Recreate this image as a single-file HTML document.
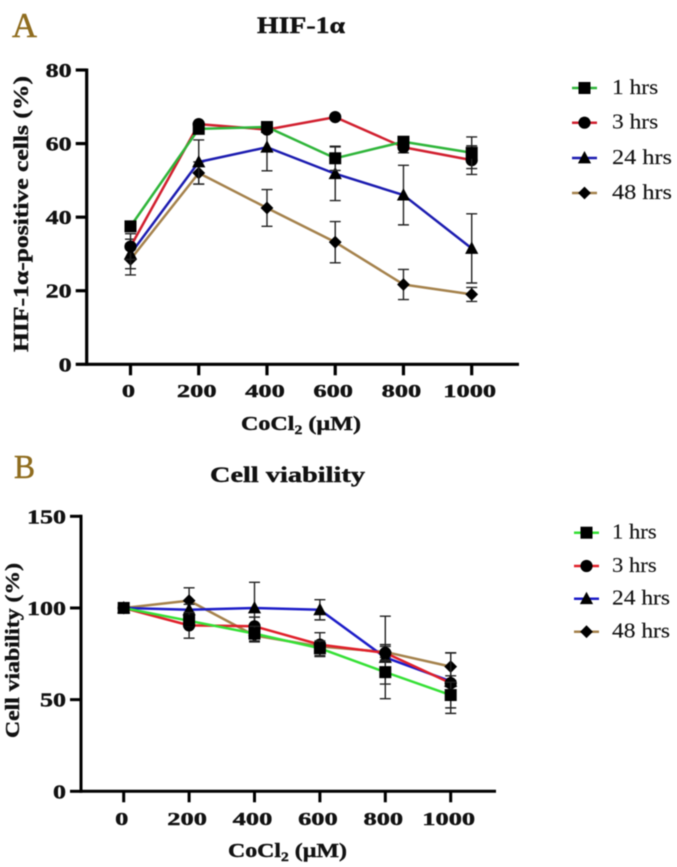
<!DOCTYPE html>
<html lang="en">
<head>
<meta charset="utf-8">
<title>HIF-1α and cell viability</title>
<style>
html,body{margin:0;padding:0;background:#fff;}
#figure{display:block;width:677px;height:867px;filter:blur(0.55px);}
text{font-family:"Liberation Serif","DejaVu Serif",serif;fill:#111;}
.bold,text[font-weight="700"]{font-weight:700;stroke:#111;stroke-width:0.4px;}
.letter{stroke:#8f6c1e;stroke-width:0.5px;}
.legend-text{stroke:#222;stroke-width:0.15px;}
</style>
</head>
<body>
<svg id="figure" xmlns="http://www.w3.org/2000/svg" width="677" height="867" viewBox="0 0 677 867">
  <text class="letter" x="12" y="37" font-size="35" style="fill:#8f6c1e" textLength="25" lengthAdjust="spacingAndGlyphs">A</text>
  <text class="letter" x="14" y="478" font-size="34" style="fill:#8f6c1e" textLength="21" lengthAdjust="spacingAndGlyphs">B</text>
  <text class="bold" x="257" y="33" font-size="23" textLength="88" lengthAdjust="spacingAndGlyphs">HIF-1α</text>
  <text class="bold" x="210" y="482" font-size="22" textLength="155" lengthAdjust="spacingAndGlyphs">Cell viability</text>
  <text class="bold" transform="translate(28,352) rotate(-90)" font-size="21" textLength="276" lengthAdjust="spacingAndGlyphs">HIF-1α-positive cells (%)</text>
  <text class="bold" transform="translate(19,738) rotate(-90)" font-size="20" textLength="175" lengthAdjust="spacingAndGlyphs">Cell viability (%)</text>
  <text class="bold" x="241" y="430" font-size="20" textLength="120" lengthAdjust="spacingAndGlyphs">CoCl<tspan font-size="13" dy="4">2</tspan><tspan dy="-4"> (µM)</tspan></text>
  <text class="bold" x="228" y="857" font-size="20" textLength="119" lengthAdjust="spacingAndGlyphs">CoCl<tspan font-size="13" dy="4">2</tspan><tspan dy="-4"> (µM)</tspan></text>
  <g id="chartA"></g>
  <g id="chartB"></g>
</svg>
<script>
const doses = [0, 200, 400, 600, 800, 1000];
const seriesNames = ['48 hrs', '24 hrs', '3 hrs', '1 hrs'];
const legendNames = ['1 hrs', '3 hrs', '24 hrs', '48 hrs'];

const hifTicks = [0, 20, 40, 60, 80];
const hif1hrs = [37.5, 64, 64.5, 56, 60.5, 57.5];
const hif3hrs = [32, 65.3, 63.8, 67.2, 59, 55.5];
const hif24hrs = [30, 55, 59, 51.8, 46, 31.5];
const hif48hrs = [28.5, 52, 42.5, 33.2, 21.7, 19];
const hifErr1hrs = [0.5, 0.6, 0.7, 3.3, 1, 4.3];
const hifErr3hrs = [3.5, 0.5, 0.5, 0.5, 1.5, 3.9];
const hifErr24hrs = [4, 6, 6.4, 7.3, 8.1, 9.4];
const hifErr48hrs = [4.2, 3, 5, 5.6, 4.1, 1.9];

const viaTicks = [0, 50, 100, 150];
const via1hrs = [100, 93, 86, 78, 65, 52.5];
const via3hrs = [100, 90.5, 90, 80, 75.5, 59];
const via24hrs = [100, 99, 100, 99, 73, 60];
const via48hrs = [100, 104, 85, 79, 76, 68];
const viaErr1hrs = [0, 3, 4, 4, 6.5, 7];
const viaErr3hrs = [0, 7, 5, 6.5, 4.5, 16.5];
const viaErr24hrs = [0, 3, 14, 5.5, 22.5, 3];
const viaErr48hrs = [0, 7, 3.5, 2, 3, 7.5];

const NS = 'http://www.w3.org/2000/svg';
const seriesColorsA = {'1 hrs':'#2fb53a','3 hrs':'#d1202f','24 hrs':'#1c1cb0','48 hrs':'#a5824c'};
const seriesColorsB = {'1 hrs':'#35e035','3 hrs':'#e0202a','24 hrs':'#1c1cc8','48 hrs':'#a5824c'};

function make(parent, tag, attrs, text) {
  const el = document.createElementNS(NS, tag);
  for (const k in attrs) el.setAttribute(k, attrs[k]);
  if (text !== undefined) el.textContent = text;
  parent.appendChild(el);
  return el;
}
function slug(s) { return s.replace(/\s+/g, '-'); }

function marker(parent, name, cx, cy) {
  let el;
  if (name === '1 hrs') {
    el = make(parent, 'rect', {x: cx - 6, y: cy - 6, width: 12, height: 12, fill: '#000'});
  } else if (name === '3 hrs') {
    el = make(parent, 'circle', {cx: cx, cy: cy, r: 6.1, fill: '#000'});
  } else if (name === '24 hrs') {
    el = make(parent, 'polygon', {points: (cx - 6.6) + ',' + (cy + 5.4) + ' ' + (cx + 6.6) + ',' + (cy + 5.4) + ' ' + cx + ',' + (cy - 7), fill: '#000'});
  } else {
    el = make(parent, 'polygon', {points: (cx - 6.4) + ',' + cy + ' ' + cx + ',' + (cy - 6.4) + ' ' + (cx + 6.4) + ',' + cy + ' ' + cx + ',' + (cy + 6.4), fill: '#000'});
  }
  return el;
}

function drawChart(cfg) {
  const g = document.getElementById(cfg.id);
  const xScale = d => cfg.x0 + (d / 1000) * (cfg.x1 - cfg.x0);
  const yScale = v => cfg.yBase + (v / cfg.yMax) * (cfg.yTop - cfg.yBase);

  const yAxis = make(g, 'line', {x1: cfg.axisX, x2: cfg.axisX, y1: cfg.yTop - 1.5, y2: cfg.yBase + 1.5, stroke: '#000', 'stroke-width': cfg.axisW});
  
  
  const xAxis = make(g, 'line', {x1: cfg.axisX, x2: cfg.axisEnd, y1: cfg.yBase, y2: cfg.yBase, stroke: '#000', 'stroke-width': cfg.axisW});
  
  

  cfg.yTicks.forEach(function (t) {
    const y = yScale(t);
    const tick = make(g, 'line', {x1: cfg.axisX - 11, x2: cfg.axisX, y1: y, y2: y, stroke: '#000', 'stroke-width': cfg.axisW});
    
    
    const s = String(t);
    const label = make(g, 'text', {x: cfg.axisX - 15, y: y + 7, 'text-anchor': 'end', 'font-size': 20, 'font-weight': 700, textLength: s.length * 13, lengthAdjust: 'spacingAndGlyphs'}, s);
    
    
  });
  doses.forEach(function (d) {
    const x = xScale(d);
    const tick = make(g, 'line', {x1: x, x2: x, y1: cfg.yBase, y2: cfg.yBase + 11, stroke: '#000', 'stroke-width': cfg.axisW});
    
    
    const s = String(d);
    const label = make(g, 'text', {x: x - 2, y: cfg.xLabelY, 'text-anchor': 'middle', 'font-size': 18, 'font-weight': 700, textLength: s.length * 13.2, lengthAdjust: 'spacingAndGlyphs'}, s);
    
    
  });

  seriesNames.forEach(function (name) {
    const vals = cfg.values[name];
    const errs = cfg.errors[name];
    const sg = make(g, 'g', {});
    
    
    vals.forEach(function (v, i) {
      if (!errs[i]) return;
      const x = xScale(doses[i]);
      const hi = yScale(v + errs[i]);
      const lo = yScale(v - errs[i]);
      const bar = make(sg, 'path', {d: 'M' + x + ' ' + hi + 'V' + lo + 'M' + (x - 5.5) + ' ' + hi + 'H' + (x + 5.5) + 'M' + (x - 5.5) + ' ' + lo + 'H' + (x + 5.5), stroke: '#222', 'stroke-width': 1.4, fill: 'none'});
      
      
    });
    const pts = vals.map(function (v, i) { return xScale(doses[i]) + ',' + yScale(v); }).join(' ');
    const line = make(sg, 'polyline', {points: pts, fill: 'none', stroke: cfg.colors[name], 'stroke-width': 2.5, 'stroke-linejoin': 'round'});
    
    
    vals.forEach(function (v, i) {
      const m = marker(sg, name, xScale(doses[i]), yScale(v));
      
      
    });
  });

  legendNames.forEach(function (name, i) {
    const y = cfg.legendY[i];
    const lg = make(g, 'g', {});
    
    
    const sw = make(lg, 'line', {x1: cfg.legendX, x2: cfg.legendX + 25, y1: y, y2: y, stroke: cfg.colors[name], 'stroke-width': 2.5});
    
    
    const m = marker(lg, name, cfg.legendX + 12.5, y);
    
    
    const w = name.length === 5 ? cfg.legendW * 0.77 : cfg.legendW;
    const tx = make(lg, 'text', {x: 612, y: y + 6, 'font-size': 21, 'class': 'legend-text', textLength: w, lengthAdjust: 'spacingAndGlyphs'}, name);
    
    
  });
}

drawChart({
  id: 'chartA', prefix: 'chart-a',
  x0: 130.5, x1: 471.7, yBase: 364.3, yTop: 70, yMax: 80,
  axisX: 86.7, axisEnd: 519, axisW: 3.2, xLabelY: 397,
  yTicks: hifTicks,
  values: {'1 hrs': hif1hrs, '3 hrs': hif3hrs, '24 hrs': hif24hrs, '48 hrs': hif48hrs},
  errors: {'1 hrs': hifErr1hrs, '3 hrs': hifErr3hrs, '24 hrs': hifErr24hrs, '48 hrs': hifErr48hrs},
  colors: seriesColorsA,
  legendX: 572, legendY: [88, 122.7, 158, 193], legendW: 60
});
drawChart({
  id: 'chartB', prefix: 'chart-b',
  x0: 123.7, x1: 450.7, yBase: 791.3, yTop: 516.3, yMax: 150,
  axisX: 81, axisEnd: 496, axisW: 3, xLabelY: 825,
  yTicks: viaTicks,
  values: {'1 hrs': via1hrs, '3 hrs': via3hrs, '24 hrs': via24hrs, '48 hrs': via48hrs},
  errors: {'1 hrs': viaErr1hrs, '3 hrs': viaErr3hrs, '24 hrs': viaErr24hrs, '48 hrs': viaErr48hrs},
  colors: seriesColorsB,
  legendX: 574, legendY: [532.7, 566, 598.7, 631.7], legendW: 58
});
</script>
</body>
</html>
